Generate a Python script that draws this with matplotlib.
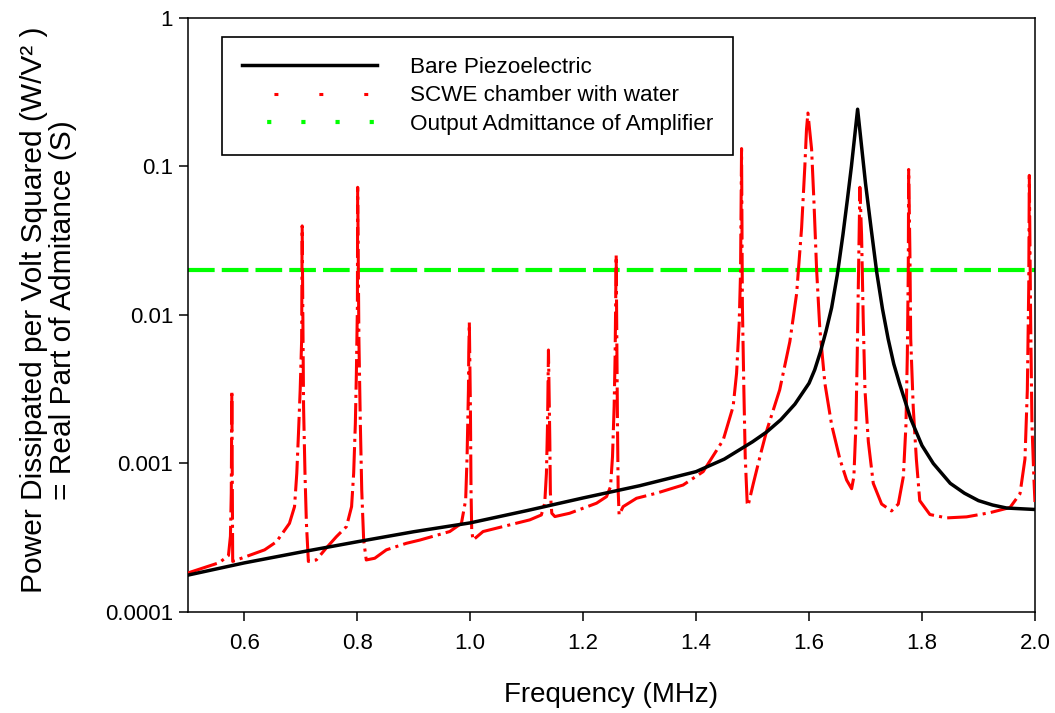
import matplotlib
matplotlib.use("Agg")
import matplotlib.pyplot as plt
from matplotlib.lines import Line2D

plt.rcParams['font.family'] = ['Liberation Sans', 'DejaVu Sans']

# bare piezoelectric (MHz, S)
bare_freq = [0.50, 0.60, 0.70, 0.80, 0.90, 1.00, 1.10, 1.20, 1.30, 1.40, 1.45, 1.50,
             1.525, 1.55, 1.575, 1.60, 1.61, 1.62, 1.63, 1.64, 1.65, 1.66, 1.668, 1.675, 1.686,
             1.70, 1.71, 1.72, 1.73, 1.74, 1.75, 1.76, 1.78, 1.80, 1.82, 1.85, 1.875,
             1.90, 1.925, 1.95, 2.00]
bare_adm = [1.77e-4, 2.14e-4, 2.53e-4, 2.97e-4, 3.47e-4, 3.98e-4, 4.81e-4, 5.86e-4,
            7.08e-4, 8.81e-4, 1.07e-3, 1.40e-3,
            1.63e-3, 1.97e-3, 2.51e-3, 3.47e-3, 4.27e-3, 5.62e-3, 7.76e-3, 1.12e-2, 1.86e-2,
            3.47e-2, 6.03e-2, 0.100, 0.243,
            7.69e-2, 3.80e-2, 1.92e-2, 1.10e-2, 6.92e-3, 4.68e-3, 3.47e-3, 2.00e-3,
            1.32e-3, 1.00e-3, 7.35e-4, 6.31e-4,
            5.62e-4, 5.25e-4, 5.01e-4, 4.90e-4]

# SCWE chamber with water
scwe_freq = [0.500, 0.556, 0.572, 0.5755, 0.577, 0.578, 0.579, 0.5795,
             0.636, 0.657, 0.680, 0.689, 0.693, 0.696, 0.699, 0.7016, 0.7025,
             0.704, 0.705, 0.7075, 0.710, 0.7135,
             0.7276, 0.745, 0.763, 0.781, 0.790, 0.7937, 0.7967, 0.7985, 0.8003, 0.8008,
             0.803, 0.8055, 0.808, 0.8114, 0.816,
             0.831, 0.8516, 0.887, 0.911, 0.9638, 0.9845, 0.992, 0.9945, 0.9969, 0.9975, 0.9985,
             1.0004, 1.0015, 1.0027, 1.005,
             1.0228, 1.058, 1.1055, 1.126, 1.132, 1.135, 1.137, 1.138, 1.1386,
             1.141, 1.142, 1.1445, 1.15,
             1.176, 1.2237, 1.2414, 1.2485, 1.252, 1.2549, 1.2566, 1.2578, 1.2585,
             1.2596, 1.2608, 1.262, 1.2637,
             1.2708, 1.2945, 1.33, 1.377, 1.4125, 1.448, 1.4656, 1.4717, 1.4763, 1.4787, 1.4805,
             1.482, 1.4846, 1.487, 1.4905, 1.492,
             1.501, 1.516, 1.525, 1.548, 1.566, 1.578, 1.5868, 1.5926, 1.5955, 1.598,
             1.6045, 1.6086, 1.6134, 1.619, 1.628, 1.64, 1.6546, 1.6665, 1.6754,
             1.6794, 1.683, 1.6853, 1.6878, 1.690,
             1.693, 1.696, 1.699, 1.705, 1.7137, 1.7285, 1.746,
             1.758, 1.767, 1.7716, 1.774, 1.7757, 1.7764,
             1.7786, 1.780, 1.7845, 1.790, 1.796, 1.814, 1.8437, 1.879, 1.920, 1.9558,
             1.9735, 1.9823, 1.9865, 1.989, 1.990,
             1.9924, 1.9947, 1.998, 2.000]
scwe_adm = [1.83e-4, 2.15e-4, 2.40e-4, 3.24e-4, 6.31e-4, 3.09e-3, 5.01e-4, 2.19e-4,
            2.62e-4, 2.97e-4, 3.95e-4, 5.12e-4, 8.59e-4, 1.60e-3, 3.13e-3, 6.79e-3, 3.98e-2,
            6.79e-3, 2.40e-3, 8.59e-4, 3.98e-4, 2.19e-4,
            2.24e-4, 2.69e-4, 3.21e-4, 3.76e-4, 5.12e-4, 8.59e-4, 1.87e-3, 4.05e-3, 1.14e-2, 7.24e-2,
            6.79e-3, 1.86e-3, 6.61e-4, 3.05e-4, 2.24e-4,
            2.30e-4, 2.62e-4, 2.90e-4, 3.05e-4, 3.48e-4, 3.95e-4, 5.68e-4, 1.11e-3, 3.13e-3, 5.62e-3, 8.91e-3,
            2.42e-3, 6.64e-4, 3.56e-4, 3.05e-4,
            3.48e-4, 3.76e-4, 4.17e-4, 4.50e-4, 5.40e-4, 8.59e-4, 1.87e-3, 4.05e-3, 5.81e-3,
            1.44e-3, 6.31e-4, 4.62e-4, 4.39e-4,
            4.62e-4, 5.40e-4, 5.98e-4, 6.98e-4, 1.11e-3, 2.42e-3, 5.24e-3, 1.47e-2, 2.54e-2,
            6.79e-3, 1.87e-3, 6.64e-4, 4.50e-4,
            5.12e-4, 5.83e-4, 6.31e-4, 7.16e-4, 8.81e-4, 1.44e-3, 2.42e-3, 4.05e-3, 8.79e-3, 1.91e-2, 0.132,
            1.14e-2, 3.13e-3, 1.11e-3, 5.40e-4, 5.19e-4,
            7.24e-4, 1.23e-3, 1.66e-3, 3.13e-3, 6.61e-3, 1.39e-2, 3.85e-2, 0.101, 0.178, 0.229,
            0.131, 5.89e-2, 2.02e-2, 8.17e-3, 3.47e-3, 1.82e-3, 1.07e-3, 7.74e-4, 6.76e-4,
            8.17e-4, 1.82e-3, 5.31e-3, 2.02e-2, 7.24e-2,
            3.47e-2, 9.12e-3, 3.13e-3, 1.40e-3, 7.35e-4, 5.33e-4, 4.79e-4,
            5.33e-4, 8.17e-4, 1.82e-3, 5.31e-3, 2.02e-2, 9.55e-2,
            2.64e-2, 6.93e-3, 2.38e-3, 1.07e-3, 5.62e-4, 4.53e-4, 4.30e-4, 4.37e-4, 4.66e-4, 5.05e-4,
            6.25e-4, 1.07e-3, 3.13e-3, 1.55e-2, 8.71e-2,
            9.12e-3, 1.82e-3, 8.17e-4, 5.50e-4]

# output admittance of the amplifier (flat)
amp_freq = [0.5, 2.0]
amp_adm = [0.02, 0.02]

labels = ["Bare Piezoelectric", "SCWE chamber with water", "Output Admittance of Amplifier"]

fig = plt.figure(figsize=(10.55, 7.13), dpi=100)
ax = fig.add_axes([0.178, 0.1417, 0.803, 0.8331])

ax.plot(amp_freq, amp_adm, color="#00ff00", lw=3, dashes=(6.4, 1.7), zorder=2)
ax.plot(scwe_freq, scwe_adm, color="#ff0000", lw=2.2, dashes=(10, 1.7, 1, 1.7), zorder=3)
ax.plot(bare_freq, bare_adm, color="black", lw=2.5, zorder=4)

ax.set_yscale("log")
ax.set_xlim(0.5, 2.0)
ax.set_ylim(1e-4, 1)
ax.set_yticks([1e-4, 1e-3, 1e-2, 1e-1, 1])
ax.set_yticklabels(["0.0001", "0.001", "0.01", "0.1", "1"])
ax.set_xticks([0.6, 0.8, 1.0, 1.2, 1.4, 1.6, 1.8, 2.0])
ax.set_xticklabels(["0.6", "0.8", "1.0", "1.2", "1.4", "1.6", "1.8", "2.0"])
ax.minorticks_off()
ax.tick_params(direction="out", length=6.5, width=1.1, labelsize=16)
ax.tick_params(axis="x", pad=9)
ax.tick_params(axis="y", pad=4)
for s in ax.spines.values():
    s.set_linewidth(1.1)

ax.set_xlabel("Frequency (MHz)", fontsize=20, labelpad=20)
fig.text(0.046, 0.565, "Power Dissipated per Volt Squared (W/V² )\n= Real Part of Admitance (S)",
         rotation=90, fontsize=21.5, ha="center", va="center", multialignment="center",
         linespacing=1.05)

# legend handles mimic the sparse dotted look of the original legend
handles = [
    Line2D([], [], color="black", lw=2.5),
    Line2D([], [], color="#ff0000", lw=2.2, linestyle=(4.25, (1.3, 13.4))),
    Line2D([], [], color="#00ff00", lw=3, linestyle=(2.16, (1.0, 7.2))),
]
leg = ax.legend(handles, labels, loc="upper left", bbox_to_anchor=(0.040, 0.968),
                borderaxespad=0, fontsize=16.2, handlelength=6.0, handletextpad=1.45,
                labelspacing=0.32, borderpad=0.9, fancybox=False, framealpha=1,
                edgecolor="black")
leg.get_frame().set_linewidth(1.2)

fig.savefig("out.png", dpi=100)
